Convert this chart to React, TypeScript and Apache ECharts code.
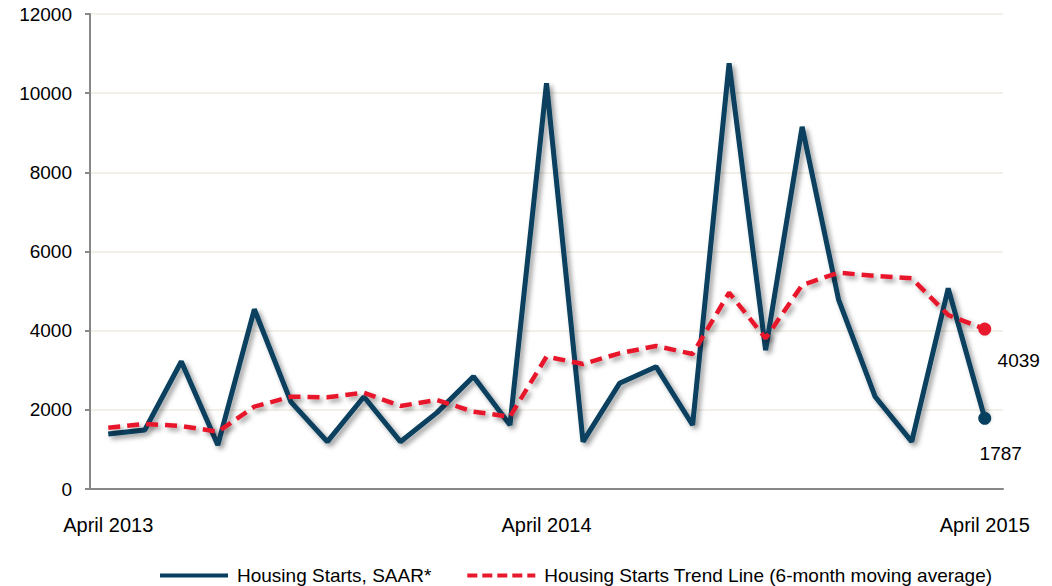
import React, { useEffect, useRef } from "react";
import * as echarts from "echarts";

const months: string[] = [
  "April 2013", "May 2013", "June 2013", "July 2013", "August 2013", "September 2013",
  "October 2013", "November 2013", "December 2013", "January 2014", "February 2014", "March 2014",
  "April 2014", "May 2014", "June 2014", "July 2014", "August 2014", "September 2014",
  "October 2014", "November 2014", "December 2014", "January 2015", "February 2015", "March 2015",
  "April 2015",
];
const shownLabels: number[] = [0, 12, 24];

const housingStarts: number[] = [
  1390, 1490, 3220, 1110, 4540, 2200, 1195, 2330, 1195, 1930, 2840, 1617,
  10250, 1195, 2670, 3090, 1617, 10755, 3510, 9150, 4775, 2330, 1195, 5070, 1787,
];
const trendLine: number[] = [
  1549, 1642, 1592, 1448, 2080, 2332, 2316, 2433, 2097, 2249, 1953, 1827,
  3343, 3158, 3428, 3613, 3411, 4960, 3807, 5154, 5465, 5381, 5323, 4396, 4039,
];

const seriesNames: string[] = [
  "Housing Starts, SAAR*",
  "Housing Starts Trend Line (6-month moving average)",
];

const FONT = "Liberation Sans, Arial, sans-serif";

function withEndMarker(values: number[], color: string, offset: number[]) {
  return values.map((v, i) =>
    i === values.length - 1
      ? {
          value: v,
          symbol: "circle",
          symbolSize: 13,
          itemStyle: { color },
          label: {
            show: true,
            position: "bottom",
            offset,
            color: "#000",
            fontSize: 19,
            fontFamily: FONT,
            formatter: String(v),
          },
        }
      : { value: v, symbol: "none" }
  );
}

export default function App() {
  const ref = useRef<HTMLDivElement>(null);
  useEffect(() => {
    if (!ref.current) return;
    const chart = echarts.init(ref.current, undefined, { renderer: "svg" });
    const shadow = {
      shadowColor: "rgba(0,0,0,0.4)",
      shadowBlur: 5,
      shadowOffsetX: 3,
      shadowOffsetY: 3,
    };
    chart.setOption({
      animation: false,
      backgroundColor: "#fff",
      textStyle: { fontFamily: FONT },
      grid: { left: 90, right: 49, top: 14, bottom: 97, containLabel: false },
      legend: {
        top: 561,
        left: 155,
        itemWidth: 68,
        itemHeight: 4,
        itemGap: 36,
        textStyle: { fontSize: 19, color: "#000", fontFamily: FONT, padding: [0, 0, 0, 4] },
        data: [
          { name: seriesNames[0], icon: "path://M0 0H68V4H0Z" },
          {
            name: seriesNames[1],
            icon: "path://M0 0H10V4H0ZM15 0H25V4H15ZM30 0H40V4H30ZM45 0H55V4H45ZM60 0H68V4H60Z",
          },
        ],
      },
      xAxis: {
        type: "category",
        data: months,
        boundaryGap: true,
        axisLine: { lineStyle: { color: "#888", width: 2 } },
        axisTick: { show: false },
        axisLabel: {
          interval: (i: number) => shownLabels.includes(i),
          color: "#000",
          fontSize: 20,
          margin: 26,
          fontFamily: FONT,
        },
      },
      yAxis: {
        type: "value",
        min: 0,
        max: 12000,
        interval: 2000,
        axisLine: { show: true, lineStyle: { color: "#888", width: 2 } },
        axisTick: { show: true, length: 5, lineStyle: { color: "#888", width: 2 } },
        splitLine: { lineStyle: { color: "#efebe0", width: 1.5 } },
        axisLabel: {
          color: "#000",
          fontSize: 19,
          margin: 18,
          fontFamily: FONT,
          formatter: (v: number) => String(v),
        },
      },
      series: [
        {
          name: seriesNames[0],
          type: "line",
          data: withEndMarker(housingStarts, "#073f5f", [16, 14]),
          symbol: "none",
          color: "#073f5f",
          lineStyle: { color: "#073f5f", width: 5, ...shadow },
          z: 2,
        },
        {
          name: seriesNames[1],
          type: "line",
          data: withEndMarker(trendLine, "#e8192c", [34, 10]),
          symbol: "none",
          color: "#e8192c",
          lineStyle: { color: "#e8192c", width: 4.5, type: [12, 7], ...shadow },
          z: 3,
        },
      ],
    });
    return () => chart.dispose();
  }, []);
  return (
    <div
      ref={ref}
      style={{ position: "absolute", left: 0, top: 0, width: 1052, height: 586 }}
    />
  );
}
